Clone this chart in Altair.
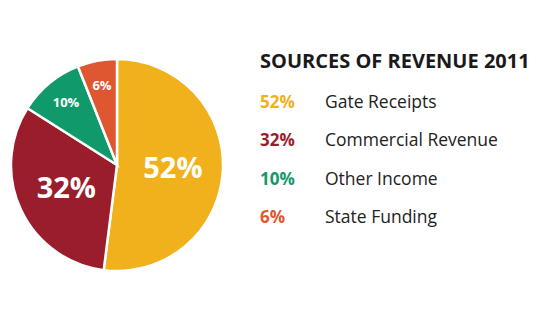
import math
import altair as alt
import pandas as pd

categories = ["Gate Receipts", "Commercial Revenue", "Other Income", "State Funding"]
values = [52, 32, 10, 6]
pct_labels = ["52%", "32%", "10%", "6%"]
colors = ["#f0b11c", "#9a1d2b", "#10996a", "#df5730"]
title_text = "SOURCES OF REVENUE 2011"

df = pd.DataFrame({
    "category": categories,
    "value": values,
    "pct": pct_labels,
    "order": list(range(len(categories))),
})

color_scale = alt.Scale(domain=categories, range=colors)
FONT = "Open Sans"

base = alt.Chart(df)

cx, cy = 109, 157

lbl_base = base.transform_joinaggregate(total="sum(value)").transform_window(
    cum="sum(value)", sort=[alt.SortField("order", order="ascending")]
).transform_calculate(
    start="(datum.cum - datum.value) / datum.total",
    end="datum.cum / datum.total",
    mid="(datum.cum - datum.value / 2) / datum.total",
)
ang_scale = alt.Scale(domain=[0, 1], range=[0, 2 * math.pi])

pie = lbl_base.mark_arc(radius=106, stroke="white", strokeWidth=2.5).encode(
    theta=alt.Theta("start:Q", stack=None, scale=ang_scale),
    theta2="end:Q",
    color=alt.Color("category:N", scale=color_scale, legend=None),
    x=alt.value(cx), y=alt.value(cy),
)

mid_theta = alt.Theta("mid:Q", stack=None, scale=ang_scale)

big_lbl = lbl_base.transform_filter("datum.value >= 20").mark_text(
    radius=56, font=FONT, fontWeight="bold", fontSize=29, color="white",
    align="center", baseline="middle",
).encode(theta=mid_theta, text="pct:N", x=alt.value(cx), y=alt.value(cy))

small_lbl = lbl_base.transform_filter("datum.value < 20").mark_text(
    radius=80, font=FONT, fontWeight="bold", fontSize=13, color="white",
    align="center", baseline="middle",
).encode(theta=mid_theta, text="pct:N", x=alt.value(cx), y=alt.value(cy))

title = alt.Chart(pd.DataFrame({"t": [title_text]})).mark_text(
    font=FONT, fontWeight="bold", fontSize=20, color="#1a1a1a",
    align="left", baseline="middle",
).encode(text="t:N", x=alt.value(252), y=alt.value(54))

ypos = alt.Y("category:N", sort=categories, axis=None,
             scale=alt.Scale(type="point", range=[95, 210], padding=0))

leg_pct = base.mark_text(
    font=FONT, fontWeight="bold", fontSize=17, align="left", baseline="middle",
).encode(
    x=alt.value(252), y=ypos, text="pct:N",
    color=alt.Color("category:N", scale=color_scale, legend=None),
)
leg_lbl = base.mark_text(
    font=FONT, fontSize=17.5, align="left", baseline="middle", color="#222222",
).encode(x=alt.value(317), y=ypos, text="category:N")

chart = alt.layer(pie, big_lbl, small_lbl, title, leg_pct, leg_lbl).properties(
    width=523, height=309,
    autosize=alt.AutoSizeParams(type="none"),
    padding=0,
    background="white",
).configure_view(stroke=None)

chart.save("out.html", embed_options={"renderer": "svg", "actions": False})
